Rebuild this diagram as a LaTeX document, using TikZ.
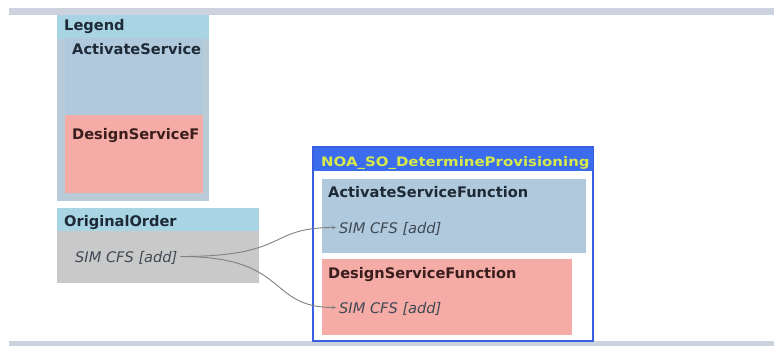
\documentclass[tikz,border=0pt]{standalone}
\usepackage{fontspec}
\setmainfont{DejaVu Sans}
\usetikzlibrary{arrows.meta}
\definecolor{barc}{HTML}{CDD3DE}
\definecolor{legout}{HTML}{B8CBD6}
\definecolor{hdrblue}{HTML}{A8D4E4}
\definecolor{actblue}{HTML}{B0C9DD}
\definecolor{despink}{HTML}{F5ABA6}
\definecolor{bodygrey}{HTML}{C9C9C9}
\definecolor{noaline}{HTML}{3A5EE0}
\definecolor{noahdr}{HTML}{3B6CEE}
\definecolor{noatitle}{HTML}{D6EA4A}
\definecolor{txtdark}{HTML}{1E2A36}
\definecolor{txtred}{HTML}{3A1E1E}
\definecolor{conncol}{HTML}{808080}
\tikzset{
  area/.style={draw=none, anchor=north west, inner sep=0pt, outer sep=0pt},
  lbl/.style={anchor=base west, inner sep=0pt, font=\fontsize{14.6}{16}\selectfont\bfseries, text=txtdark},
  item/.style={anchor=base west, inner xsep=3pt, inner ysep=0pt, text height=11pt, text depth=0pt, font=\fontsize{14.6}{16}\selectfont\itshape, text=txtdark!85},
  conn/.style={draw=conncol, line width=0.9pt, -{Stealth[length=4pt,width=3.5pt]}}
}
\begin{document}
\begin{tikzpicture}[x=1pt,y=-1pt]
\useasboundingbox (0,0) rectangle (774,346);
\fill[white] (0,0) rectangle (774,346);
% bars
\node[area, fill=barc, minimum width=765pt, minimum height=7pt] (topbar) at (9,8) {};
\node[area, fill=barc, minimum width=765pt, minimum height=5pt] (botbar) at (9,341) {};
% legend
\node[area, fill=legout, minimum width=152pt, minimum height=186pt] (legend) at (57,15) {};
\node[area, fill=hdrblue, minimum width=152pt, minimum height=24pt] (leghdr) at (57,15) {};
\node[area, fill=actblue, minimum width=138pt, minimum height=77pt] (legact) at (65,38) {};
\node[area, fill=despink, minimum width=138pt, minimum height=78pt] (legdes) at (65,115) {};
\node[lbl] (legendt) at (64,30) {Legend};
\node[lbl] (legactt) at (72,54) {ActivateService};
\node[lbl, text=txtred] (legdest) at (72,139) {DesignServiceF};
% original order
\node[area, fill=bodygrey, minimum width=202pt, minimum height=75pt] (orig) at (57,208) {};
\node[area, fill=hdrblue, minimum width=202pt, minimum height=23pt] (orighdr) at (57,208) {};
\node[lbl] (origt) at (64,226) {OriginalOrder};
\node[item] (origsim) at (72,262) {SIM CFS [add]};
% NOA
\node[area, fill=white, draw=noaline, line width=2pt, minimum width=280pt, minimum height=194pt, anchor=north west] (noa) at (313,147) {};
\node[area, fill=noahdr, minimum width=279pt, minimum height=23pt] (noahdr) at (313.5,147.5) {};
\node[lbl, text=noatitle, font=\fontsize{13}{14}\selectfont\bfseries] (noat) at (321,166) {\scalebox{1.15}[1]{NOA\_SO\_DetermineProvisioning}};
\node[area, fill=actblue, minimum width=264pt, minimum height=74pt] (act) at (322,179) {};
\node[area, fill=despink, minimum width=250pt, minimum height=76pt] (des) at (322,259) {};
\node[lbl] (actt) at (328,197) {ActivateServiceFunction};
\node[item] (actsim) at (336,233) {SIM CFS [add]};
\node[lbl, text=txtred] (dest) at (328,278) {DesignServiceFunction};
\node[item] (dessim) at (336,313) {SIM CFS [add]};
% connectors
\draw[conn] (origsim.east) .. controls +(110,0) and +(-70,0) .. (actsim.west);
\draw[conn] (origsim.east) .. controls +(110,0) and +(-70,0) .. (dessim.west);
\end{tikzpicture}
\end{document}
